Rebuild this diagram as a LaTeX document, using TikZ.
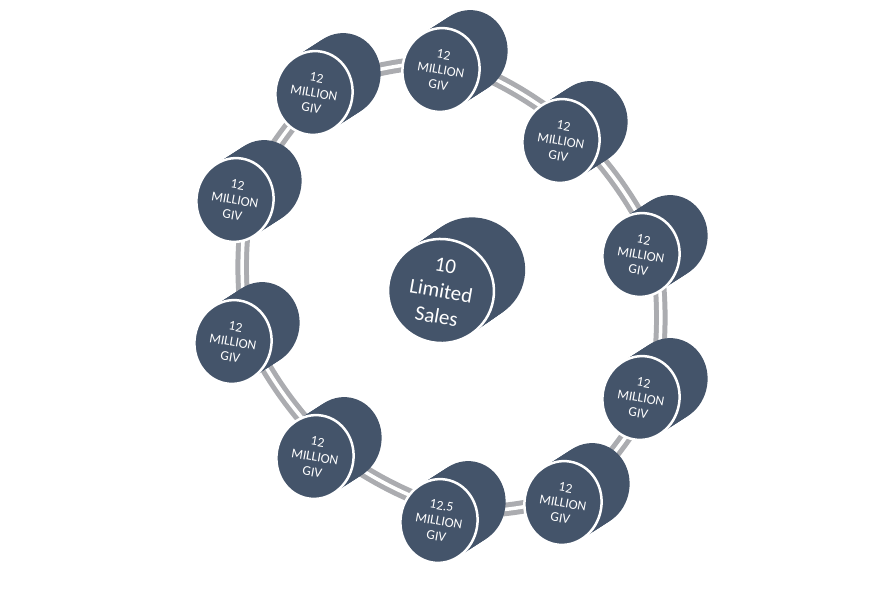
\documentclass[tikz,border=0pt]{standalone}
\usepackage{fontspec}
\setmainfont{Carlito}
\usetikzlibrary{shapes.geometric}
\usetikzlibrary{calc}
\usetikzlibrary{backgrounds}

\definecolor{discblue}{HTML}{44546A}
\definecolor{linkgray}{HTML}{ABACB0}

\tikzset{
  face/.style={ellipse, fill=discblue, draw=white, line width=2.5pt,
    text=white, align=center, inner sep=0pt, rotate=-10},
  smallface/.style={face, minimum width=77pt, minimum height=84pt,
    font=\fontsize{13.5}{15.5}\selectfont},
  bigface/.style={face, minimum width=106pt, minimum height=104pt,
    font=\fontsize{21}{26}\selectfont},
  link/.style={draw=linkgray, line width=5pt, double=white, double distance=3.5pt}
}

\begin{document}
\begin{tikzpicture}[x=1pt, y=1pt]
    \useasboundingbox (0,0) rectangle (869,-596);
    % centre disc
    \foreach \k in {0,...,12}
        \fill[discblue] ($(441,-291)+\k*(2.6,1.8)$) circle[x radius=53, y radius=52, rotate=-10];
    \node[bigface] (hub) at (441,-291) {10\\Limited\\Sales};
    % ring of discs
    \foreach \n/\x/\y/\t in {1/441/70/12, 2/561/141/12, 3/641/255/12, 4/641/398/12,
        5/563/503/12, 6/439/521/12.5, 7/315/457/12, 8/233/342/12, 9/235/200/12, 10/314/93/12} {
        \foreach \k in {0,...,10}
            \fill[discblue] ($(\x,-\y)+\k*(2.8,1.8)$) circle[x radius=38.5, y radius=42, rotate=-10];
        \node[smallface] (d\n) at (\x,-\y) {\t\\MILLION\\GIV};
        \coordinate (m\n) at ($(d\n)+(14,9)$);
    }
    % links between neighbours
    \begin{scope}[on background layer]
        \foreach \a/\b in {1/2, 2/3, 3/4, 4/5, 5/6, 6/7, 7/8, 8/9, 9/10, 10/1}
            \draw[link] (m\a) to[bend left=8] (m\b);
    \end{scope}
\end{tikzpicture}
\end{document}
